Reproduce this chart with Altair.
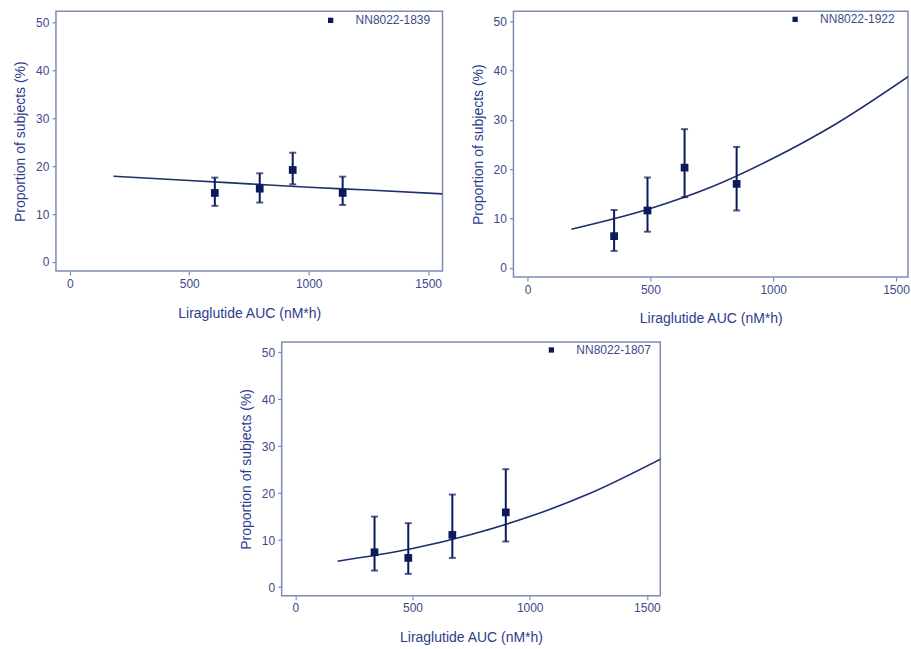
import altair as alt
import pandas as pd

# ---- data ----
studies = ["NN8022-1839", "NN8022-1922", "NN8022-1807"]

# observed proportions (%) with 95% CI, by exposure quartile
auc_1839 = [607, 795, 933, 1142]
pct_1839 = [14.4, 15.3, 19.2, 14.4]
lo_1839 = [11.7, 12.4, 16.2, 11.9]
hi_1839 = [17.6, 18.5, 22.8, 17.8]

auc_1922 = [352, 488, 639, 851]
pct_1922 = [6.4, 11.6, 20.3, 17.0]
lo_1922 = [3.4, 7.3, 14.3, 11.6]
hi_1922 = [11.7, 18.3, 28.1, 24.5]

auc_1807 = [338, 482, 670, 898]
pct_1807 = [7.4, 6.2, 11.1, 15.9]
lo_1807 = [3.5, 2.8, 6.2, 9.7]
hi_1807 = [15.0, 13.6, 19.7, 25.1]

# model curves
curve_x_1839 = [183, 500, 750, 1000, 1250, 1560]
curve_y_1839 = [17.9, 17.0, 16.3, 15.6, 15.0, 14.2]
curve_x_1922 = [178, 500, 750, 1000, 1250, 1560]
curve_y_1922 = [7.8, 12.0, 16.4, 22.2, 29.0, 39.1]
curve_x_1807 = [180, 500, 750, 1000, 1250, 1560]
curve_y_1807 = [5.5, 8.2, 11.2, 15.0, 19.8, 27.3]

x_ticks = [0, 500, 1000, 1500]
y_ticks = [0, 10, 20, 30, 40, 50]

# ---- styling ----
FONT = "Liberation Sans"
DARK = "#0c1a5c"
LINE = "#1f2e6e"
FRAME = "#7d8ab6"
LABEL = "#3c4a88"
TITLE = "#2d3d8c"


def panel(name, auc, pct, lo, hi, cx, cy, width, height, xdom, ydom, lx, ly):
    obs = pd.DataFrame({"auc": auc, "pct": pct, "lo": lo, "hi": hi, "study": name})
    cur = pd.DataFrame({"x": cx, "y": cy})
    xs = alt.Scale(domain=xdom, nice=False, zero=False)
    ys = alt.Scale(domain=ydom, nice=False, zero=False)
    xax = alt.Axis(values=x_ticks, format="d", title="Liraglutide AUC (nM*h)", grid=False,
                   tickSize=4, labelPadding=3, titlePadding=17)
    yax = alt.Axis(values=y_ticks, format="d", title="Proportion of subjects (%)", grid=False,
                   tickSize=4, labelPadding=3, titlePadding=8)

    line = alt.Chart(cur).mark_line(color=LINE, strokeWidth=1.6, interpolate="monotone", clip=True).encode(
        x=alt.X("x:Q", scale=xs, axis=xax),
        y=alt.Y("y:Q", scale=ys, axis=yax),
    )
    bars = alt.Chart(obs).mark_rule(color=DARK, strokeWidth=2).encode(
        x=alt.X("auc:Q", scale=xs),
        y=alt.Y("lo:Q", scale=ys),
        y2="hi:Q",
    )
    cap_lo = alt.Chart(obs).mark_tick(color=DARK, orient="horizontal", size=7, thickness=2).encode(
        x=alt.X("auc:Q", scale=xs), y=alt.Y("lo:Q", scale=ys))
    cap_hi = alt.Chart(obs).mark_tick(color=DARK, orient="horizontal", size=7, thickness=2).encode(
        x=alt.X("auc:Q", scale=xs), y=alt.Y("hi:Q", scale=ys))
    pts = alt.Chart(obs).mark_point(filled=True, color=DARK, size=60, opacity=1, shape="square").encode(
        x=alt.X("auc:Q", scale=xs),
        y=alt.Y("pct:Q", scale=ys),
        shape=alt.Shape("study:N", scale=alt.Scale(domain=[name], range=["square"]),
                        legend=alt.Legend(orient="none", legendX=lx, legendY=ly, title=None,
                                          symbolSize=28, symbolFillColor=DARK, symbolStrokeWidth=0,
                                          labelOffset=19, labelFontSize=12, labelFont=FONT,
                                          labelColor=LABEL, padding=0)),
    )
    return alt.layer(line, bars, cap_lo, cap_hi, pts).properties(
        width=width, height=height,
        view=alt.ViewBackground(stroke=FRAME, strokeWidth=1.5, fill="white"),
    )


p1 = panel(studies[0], auc_1839, pct_1839, lo_1839, hi_1839, curve_x_1839, curve_y_1839,
           387, 260, [-58, 1560], [-1.9, 52.3], 269, 3)
p2 = panel(studies[1], auc_1922, pct_1922, lo_1922, hi_1922, curve_x_1922, curve_y_1922,
           395, 266, [-58, 1549], [-1.9, 52.0], 276, 2)
p3 = panel(studies[2], auc_1807, pct_1807, lo_1807, hi_1807, curve_x_1807, curve_y_1807,
           379, 254, [-58, 1557], [-1.85, 52.2], 264, 2)

spacer = alt.Chart(pd.DataFrame({"a": [0]})).mark_point(opacity=0).encode(
    x=alt.value(0), y=alt.value(0)
).properties(width=226, height=10, view=alt.ViewBackground(strokeOpacity=0))

top = alt.hconcat(p1, p2, spacing=71, bounds="flush").resolve_scale(shape="independent").resolve_legend(shape="independent")
bottom = alt.hconcat(spacer, p3, spacing=0, bounds="flush").resolve_scale(shape="independent").resolve_legend(shape="independent")

chart = alt.vconcat(top, bottom, spacing=12).resolve_scale(
    shape="independent"
).resolve_legend(shape="independent").properties(
    padding={"left": 12, "top": 10, "right": 0, "bottom": 0},
    background="white",
).configure_axis(
    domain=False, tickColor=FRAME, tickWidth=1.2,
    labelFont=FONT, labelFontSize=12, labelColor=LABEL,
    titleFont=FONT, titleFontSize=14, titleFontWeight="normal", titleColor=TITLE,
).configure_view(stroke=FRAME)

chart.save("out.html", embed_options={"renderer": "svg", "actions": False})
